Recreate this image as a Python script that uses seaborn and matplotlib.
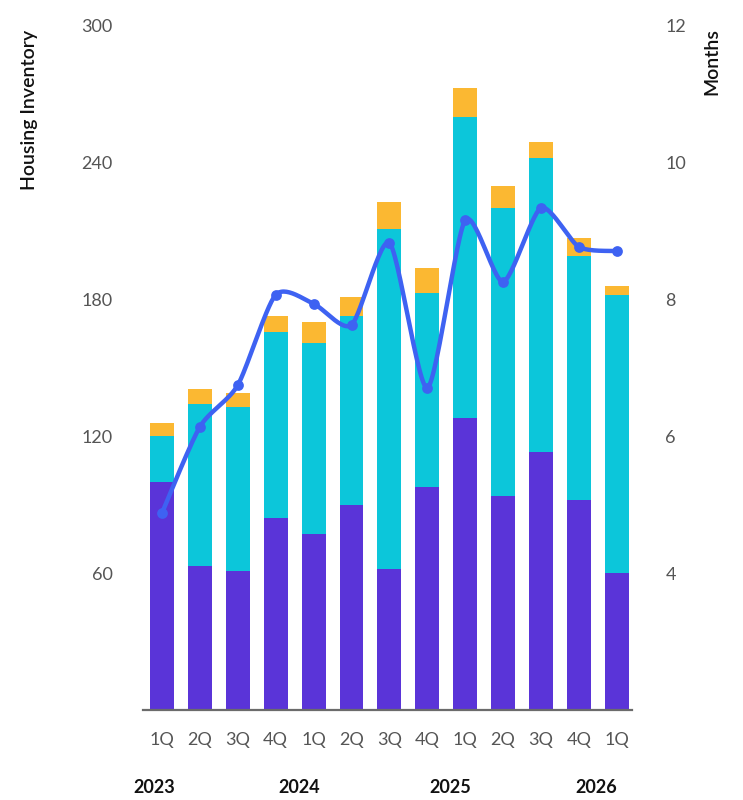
import numpy as np
import pandas as pd
import matplotlib
matplotlib.use("Agg")
import matplotlib.pyplot as plt
import seaborn as sns

# Quarterly housing inventory, stacked by segment, plus months of supply
quarters = ["1Q", "2Q", "3Q", "4Q", "1Q", "2Q", "3Q", "4Q", "1Q", "2Q", "3Q", "4Q", "1Q"]
period_keys = ["2023-1Q", "2023-2Q", "2023-3Q", "2023-4Q",
               "2024-1Q", "2024-2Q", "2024-3Q", "2024-4Q",
               "2025-1Q", "2025-2Q", "2025-3Q", "2025-4Q",
               "2026-1Q"]
years = ["2023", "2024", "2025", "2026"]
year_label_pos = [-0.2, 3.63, 7.6, 11.45]

segment_purple = [100, 63, 61, 84, 77, 90, 62, 98, 128, 94, 113, 92, 60]
segment_cyan = [20, 71, 72, 82, 84, 83, 149, 85, 132, 126, 129, 107, 122]
segment_orange = [6, 7, 6, 7, 9, 8, 12, 11, 13, 10, 7, 8, 4]
months_supply = [4.88, 6.14, 6.75, 8.07, 7.94, 7.63, 8.83, 6.71, 9.16, 8.26, 9.34, 8.77, 8.71]

C_PURPLE = "#5a34d8"
C_CYAN = "#0cc6da"
C_ORANGE = "#fbb832"
C_LINE = "#3e62f2"

df = pd.DataFrame({
    "period": period_keys,
    "purple": segment_purple,
    "cyan": segment_cyan,
    "orange": segment_orange,
    "months": months_supply,
})
df["lvl_cyan"] = df["purple"] + df["cyan"]
df["lvl_total"] = df["lvl_cyan"] + df["orange"]

sns.set_theme(style="white")
plt.rcParams["font.family"] = ["Lato", "DejaVu Sans"]

fig = plt.figure(figsize=(7.43, 8.0), dpi=100)
ax = fig.add_axes([0.1925, 0.1125, 0.6581, 0.855])

bar_w = 0.63
# stacked bars: draw cumulative totals back to front
sns.barplot(data=df, x="period", y="lvl_total", order=period_keys, color=C_ORANGE,
            saturation=1, width=bar_w, ax=ax)
sns.barplot(data=df, x="period", y="lvl_cyan", order=period_keys, color=C_CYAN,
            saturation=1, width=bar_w, ax=ax)
sns.barplot(data=df, x="period", y="purple", order=period_keys, color=C_PURPLE,
            saturation=1, width=bar_w, ax=ax)
for p in ax.patches:
    p.set_linewidth(0)

ax.set_xlim(-0.5, 12.4)
ax.set_ylim(0, 300)
ax.set_yticks([60, 120, 180, 240, 300])
ax.set_xticks(range(len(quarters)))
ax.set_xticklabels(quarters)
ax.set_xlabel("")
ax.set_ylabel("")
for s in ["top", "right", "left"]:
    ax.spines[s].set_visible(False)
ax.spines["bottom"].set_color("#6b6b6b")
ax.spines["bottom"].set_linewidth(1.6)
ax.tick_params(axis="y", length=0, pad=22, labelsize=13, labelcolor="#555555")
ax.tick_params(axis="x", length=0, pad=16, labelsize=13, labelcolor="#555555")
ax.grid(False)

# months of supply on the secondary axis, drawn as a smooth cardinal curve
ax2 = ax.twinx()
xs = np.arange(len(months_supply), dtype=float)
ys = np.asarray(months_supply, dtype=float)
tension = 0.36
mx = np.empty_like(xs)
my = np.empty_like(ys)
mx[1:-1] = tension * (xs[2:] - xs[:-2])
my[1:-1] = tension * (ys[2:] - ys[:-2])
mx[0], my[0] = tension * (xs[1] - xs[0]), tension * (ys[1] - ys[0])
mx[-1], my[-1] = tension * (xs[-1] - xs[-2]), tension * (ys[-1] - ys[-2])
t = np.linspace(0, 1, 30)
h00 = 2 * t**3 - 3 * t**2 + 1
h10 = t**3 - 2 * t**2 + t
h01 = -2 * t**3 + 3 * t**2
h11 = t**3 - t**2
cx, cy = [], []
for i in range(len(xs) - 1):
    cx.append(h00 * xs[i] + h10 * mx[i] + h01 * xs[i + 1] + h11 * mx[i + 1])
    cy.append(h00 * ys[i] + h10 * my[i] + h01 * ys[i + 1] + h11 * my[i + 1])
ax2.plot(np.concatenate(cx), np.concatenate(cy), color=C_LINE, lw=3.2,
         solid_capstyle="round", zorder=3)
sns.scatterplot(x=xs, y=ys, color=C_LINE, s=60, edgecolor=C_LINE, linewidth=0,
                ax=ax2, zorder=4)
ax2.set_ylim(2, 12)
ax2.set_yticks([4, 6, 8, 10, 12])
ax2.set_yticklabels(["4", "6", "8", "10", "12"])
for s in ["top", "right", "left", "bottom"]:
    ax2.spines[s].set_visible(False)
ax2.tick_params(axis="y", length=0, pad=24, labelsize=13, labelcolor="#555555")
ax2.grid(False)
ax2.set_xlim(-0.5, 12.4)

# year labels beneath the quarter labels
for yr, xpos in zip(years, year_label_pos):
    ax.text(xpos, -0.113, yr, transform=ax.get_xaxis_transform(),
            ha="center", va="center", fontsize=13, fontweight="bold", color="#111111")

fig.text(0.040, 0.863, "Housing Inventory", rotation=90, ha="center", va="center",
         fontsize=14, fontweight="semibold", color="#111111")
fig.text(0.958, 0.923, "Months", rotation=90, ha="center", va="center",
         fontsize=14, fontweight="semibold", color="#111111")

fig.savefig("out.png", dpi=100, facecolor="white")
